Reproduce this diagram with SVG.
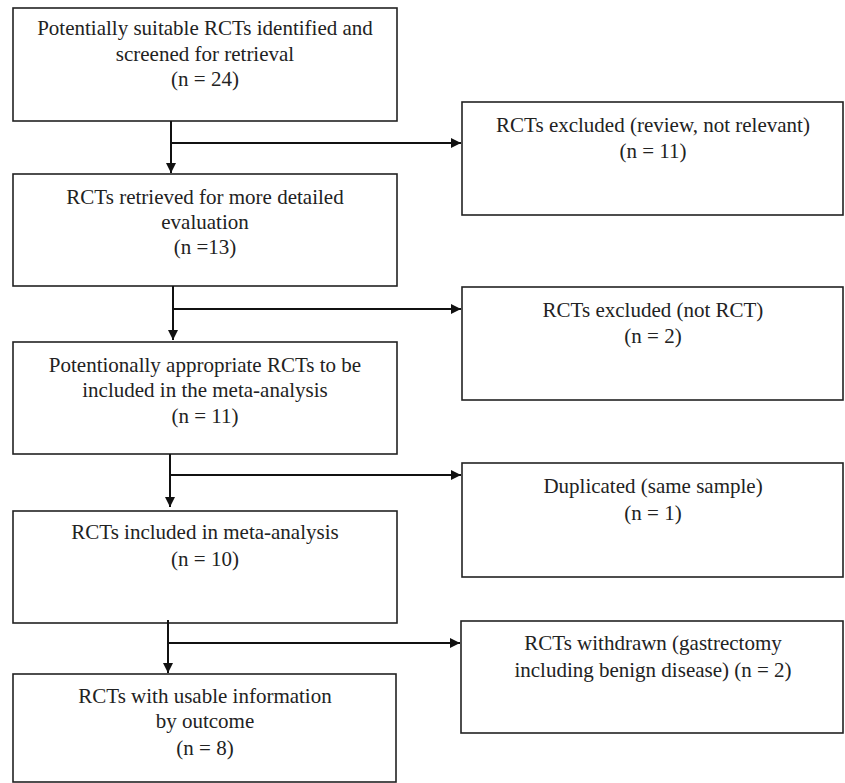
<svg xmlns="http://www.w3.org/2000/svg" width="845" height="783" viewBox="0 0 845 783">
<defs>
<marker id="ah" viewBox="0 0 10 10" refX="10" refY="5" markerWidth="10" markerHeight="10" markerUnits="userSpaceOnUse" orient="auto">
<path d="M0,0 L10,5 L0,10 Z" fill="#111"/>
</marker>
<style>
.box{fill:#fff;stroke:#222;stroke-width:1.6}
.t{font-family:'Liberation Serif','Times New Roman',serif;font-size:21px;fill:#222;text-anchor:middle}
.c{fill:none;stroke:#111;stroke-width:2}
</style>
</defs>
<rect width="845" height="783" fill="#fff"/>
<g id="n1"><rect class="box" x="13" y="8" width="384" height="113"/>
<text class="t" x="205" y="35">Potentially suitable RCTs identified and</text>
<text class="t" x="205" y="61">screened for retrieval</text>
<text class="t" x="205" y="86">(n = 24)</text></g>
<g id="n2"><rect class="box" x="13" y="174" width="384" height="112"/>
<text class="t" x="205" y="204">RCTs retrieved for more detailed</text>
<text class="t" x="205" y="229">evaluation</text>
<text class="t" x="205" y="254">(n =13)</text></g>
<g id="n3"><rect class="box" x="13" y="342" width="384" height="112"/>
<text class="t" x="205" y="372">Potentionally appropriate RCTs to be</text>
<text class="t" x="205" y="397">included in the meta-analysis</text>
<text class="t" x="205" y="423">(n = 11)</text></g>
<g id="n4"><rect class="box" x="13" y="511" width="384" height="112"/>
<text class="t" x="205" y="539">RCTs included in meta-analysis</text>
<text class="t" x="205" y="566">(n = 10)</text></g>
<g id="n5"><rect class="box" x="13" y="674" width="383" height="108"/>
<text class="t" x="205" y="703">RCTs with usable information</text>
<text class="t" x="205" y="728">by outcome</text>
<text class="t" x="205" y="755">(n = 8)</text></g>
<g id="r1"><rect class="box" x="462" y="102" width="381" height="113"/>
<text class="t" x="653" y="132">RCTs excluded (review, not relevant)</text>
<text class="t" x="653" y="158">(n = 11)</text></g>
<g id="r2"><rect class="box" x="462" y="287" width="381" height="113"/>
<text class="t" x="653" y="317">RCTs excluded (not RCT)</text>
<text class="t" x="653" y="343">(n = 2)</text></g>
<g id="r3"><rect class="box" x="462" y="463" width="381" height="114"/>
<text class="t" x="653" y="493">Duplicated (same sample)</text>
<text class="t" x="653" y="520">(n = 1)</text></g>
<g id="r4"><rect class="box" x="461" y="621" width="382" height="112"/>
<text class="t" x="653" y="650">RCTs withdrawn (gastrectomy</text>
<text class="t" x="653" y="677">including benign disease) (n = 2)</text></g>
<g id="connectors">
<path class="c" d="M171,121 V173" marker-end="url(#ah)"/>
<path class="c" d="M171,143 H461" marker-end="url(#ah)"/>
<path class="c" d="M173,286 V340" marker-end="url(#ah)"/>
<path class="c" d="M173,309 H461" marker-end="url(#ah)"/>
<path class="c" d="M170,454 V507" marker-end="url(#ah)"/>
<path class="c" d="M170,475 H461" marker-end="url(#ah)"/>
<path class="c" d="M168,620 V673" marker-end="url(#ah)"/>
<path class="c" d="M168,643 H460" marker-end="url(#ah)"/>
</g>
</svg>
